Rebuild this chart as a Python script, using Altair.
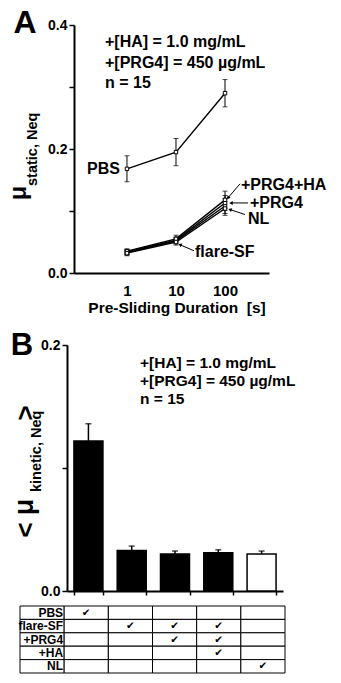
import altair as alt
import pandas as pd

FONT = "Liberation Sans"

# ---------------- Panel A data (static friction vs pre-sliding duration) ----------------
durations = [1, 10, 100]
series_names = ["PBS", "flare-SF", "+PRG4", "+PRG4+HA", "NL"]
pbs_static = [0.168, 0.195, 0.290]
pbs_static_err = [0.021, 0.022, 0.022]
flare_static = [0.033, 0.052, 0.108]
flare_static_err = [0.004, 0.005, 0.012]
prg4_static = [0.034, 0.053, 0.113]
prg4_static_err = [0.004, 0.005, 0.012]
prg4ha_static = [0.035, 0.055, 0.118]
prg4ha_static_err = [0.004, 0.006, 0.014]
nl_static = [0.032, 0.050, 0.104]
nl_static_err = [0.004, 0.005, 0.011]

# ---------------- Panel B data (kinetic friction) ----------------
bar_ids = ["PBS", "flare-SF", "flare-SF+PRG4", "flare-SF+PRG4+HA", "NL"]
mu_kinetic = [0.122, 0.033, 0.030, 0.031, 0.030]
mu_kinetic_err = [0.014, 0.0035, 0.0025, 0.0025, 0.0025]

# ---------------- Table data ----------------
table_rows = ["PBS", "flare-SF", "+PRG4", "+HA", "NL"]
table_cols = ["1", "2", "3", "4", "5"]
check_pbs = [1, 0, 0, 0, 0]
check_flare = [0, 1, 1, 1, 0]
check_prg4 = [0, 0, 1, 1, 0]
check_ha = [0, 0, 0, 1, 0]
check_nl = [0, 0, 0, 0, 1]

conc_text = "+[HA] = 1.0 mg/mL\n+[PRG4] = 450 µg/mL\nn = 15"

# ---------------- Build tables ----------------
rowsA = []
for name, vals, errs in zip(
    series_names,
    [pbs_static, flare_static, prg4_static, prg4ha_static, nl_static],
    [pbs_static_err, flare_static_err, prg4_static_err, prg4ha_static_err, nl_static_err],
):
    for t, v, e in zip(durations, vals, errs):
        rowsA.append(dict(group=name, t=t, v=v, lo=v - e, hi=v + e))
dfA = pd.DataFrame(rowsA)

dfB = pd.DataFrame({"bar": bar_ids, "v": mu_kinetic,
                    "hi": [v + e for v, e in zip(mu_kinetic, mu_kinetic_err)]})

rowsT = []
for r, checks in zip(table_rows, [check_pbs, check_flare, check_prg4, check_ha, check_nl]):
    rowsT.append(dict(row=r, col="label", check="", label=r))
    for c, k in zip(table_cols, checks):
        rowsT.append(dict(row=r, col=c, check="✔" if k else "", label=""))
dfT = pd.DataFrame(rowsT)

AX = dict(labelFont=FONT, labelFontWeight="bold", labelColor="black",
          domainColor="black", tickColor="black", grid=False, title=None,
          labelOverlap=False)

# ---------------- Panel A scales / axes ----------------
xA_scale = alt.Scale(type="log", domain=[0.083, 790], range=[74, 269])
yA_scale = alt.Scale(domain=[0, 0.4], range=[273, 25])
xA_axis = alt.Axis(orient="bottom", offset=-410, values=[1, 10, 100], ticks=False,
                   labelExpr="format(datum.value, 'd')",
                   domainWidth=2, labelFontSize=15, labelPadding=10,
                   labelFlush=False, **AX)
yA_axis = alt.Axis(orient="left", offset=-74, values=[0, 0.1, 0.2, 0.3, 0.4],
                   labelExpr="round(datum.value*10)%2==0 ? format(datum.value,'.1f') : ''",
                   tickSize=5, tickWidth=1.5, domainWidth=2, labelFontSize=14,
                   labelPadding=2, **AX)


def XA(f):
    return alt.X(f"{f}:Q", scale=xA_scale, axis=xA_axis)


def YA(f):
    return alt.Y(f"{f}:Q", scale=yA_scale, axis=yA_axis)


base_A = alt.Chart(dfA)
linesA = base_A.mark_line(color="black", strokeWidth=1.4).encode(
    x=XA("t"), y=YA("v"), detail="group:N")
errA = base_A.mark_rule(color="black", strokeWidth=1).encode(
    x=XA("t"), y=YA("lo"), y2="hi:Q")
capHiA = base_A.mark_tick(orient="horizontal", size=5, thickness=1, color="black").encode(
    x=XA("t"), y=YA("hi"))
capLoA = base_A.mark_tick(orient="horizontal", size=5, thickness=1, color="black").encode(
    x=XA("t"), y=YA("lo"))
ptsA = base_A.mark_point(shape="square", size=12, filled=True, fill="white",
                         stroke="black", strokeWidth=1, opacity=1).encode(
    x=XA("t"), y=YA("v"))

pbs_label = alt.Chart(dfA[(dfA.group == "PBS") & (dfA.t == 1)]).mark_text(
    align="right", baseline="middle", dx=-7, font=FONT, fontWeight="bold",
    fontSize=16, color="black").encode(x=XA("t"), y=YA("v"), text="group:N")

# label placement styles: (group, duration, label offset, arrow tail, arrow head, head angle)
arrow_styles = [
    ("+PRG4+HA", 100, (16, -15), (15, -16), (3, -2), 309),
    ("+PRG4", 100, (25, 0), (23, 0), (6, 0), 0),
    ("NL", 100, (23, 10), (20, 6), (5, 1), 18),
    ("flare-SF", 10, (19, 11), (18, 10), (4, 4), 23),
]
arrow_layers = []
for g, t, lab, tail, head, ang in arrow_styles:
    sub = alt.Chart(dfA[(dfA.group == g) & (dfA.t == t)])
    arrow_layers.append(sub.mark_text(
        align="left", baseline="middle", dx=lab[0], dy=lab[1], font=FONT,
        fontWeight="bold", fontSize=16, color="black").encode(
        x=XA("t"), y=YA("v"), text="group:N"))
    arrow_layers.append(sub.mark_rule(
        color="black", strokeWidth=1, xOffset=tail[0], yOffset=tail[1],
        x2Offset=head[0], y2Offset=head[1]).encode(
        x=XA("t"), y=YA("v"), x2="t:Q", y2="v:Q"))
    arrow_layers.append(sub.mark_point(
        shape="triangle-left", filled=True, size=16, color="black", opacity=1,
        angle=ang, xOffset=head[0], yOffset=head[1]).encode(
        x=XA("t"), y=YA("v")))

panelA = alt.layer(linesA, errA, capHiA, capLoA, ptsA, pbs_label, *arrow_layers)

# ---------------- Panel B ----------------
xB_scale = alt.Scale(domain=bar_ids, range=[67, 283], paddingInner=0.33, paddingOuter=0.16)
xB_axis = alt.Axis(orient="bottom", offset=-92, labels=False, tickBand="extent",
                   tickSize=4, tickWidth=1.5, domainWidth=2, **AX)
yB_scale = alt.Scale(domain=[0, 0.2], range=[591, 345])
yB_axis = alt.Axis(orient="left", offset=-67, values=[0, 0.1, 0.2],
                   labelExpr="round(datum.value*10)%2==0 ? format(datum.value,'.1f') : ''",
                   tickSize=5, tickWidth=1.5, domainWidth=2, labelFontSize=14,
                   labelPadding=2, **AX)


def XB(f):
    return alt.X(f"{f}:N", scale=xB_scale, axis=xB_axis, sort=bar_ids)


def YB(f):
    return alt.Y(f"{f}:Q", scale=yB_scale, axis=yB_axis)


base_B = alt.Chart(dfB)
barsB = base_B.mark_bar(stroke="black", strokeWidth=1.5).encode(
    x=XB("bar"), y=YB("v"),
    fill=alt.condition("datum.bar == 'NL'", alt.value("white"), alt.value("black")))
errB = base_B.mark_rule(color="black", strokeWidth=1.5).encode(
    x=XB("bar"), y=YB("v"), y2="hi:Q")
capB = base_B.mark_tick(orient="horizontal", size=6, thickness=1.5, color="black").encode(
    x=XB("bar"), y=YB("hi"))
panelB = alt.layer(barsB, errB, capB)

# ---------------- Table ----------------
xT_scale = alt.Scale(domain=["label"] + table_cols, range=[20, 285], paddingInner=0, paddingOuter=0)
yT_scale = alt.Scale(domain=table_rows, range=[606, 673], paddingInner=0, paddingOuter=0)
XT = alt.X("col:N", scale=xT_scale, axis=None, sort=["label"] + table_cols)
YT = alt.Y("row:N", scale=yT_scale, axis=None, sort=table_rows)
base_T = alt.Chart(dfT)
cells = base_T.mark_rect(fill="white", stroke="black", strokeWidth=1).encode(x=XT, y=YT)
checks_txt = base_T.mark_text(font="DejaVu Sans", fontSize=10.5, color="black",
                              baseline="middle").encode(x=XT, y=YT, text="check:N")
row_labels = base_T.mark_text(font=FONT, fontWeight="bold", fontSize=12, color="black",
                              align="right", baseline="middle", dx=21).encode(
    x=XT, y=YT, text="label:N")
table = alt.layer(cells, checks_txt, row_labels)

# ---------------- Free annotations (titles, panel letters) ----------------


def free_text(s, **kw):
    style = dict(font=FONT, fontWeight="bold", color="black")
    style.update(kw)
    return alt.Chart(pd.DataFrame({"s": [s]})).mark_text(**style).encode(text="s:N")


notes = alt.layer(
    free_text("A", x=25, y=33, align="center", baseline="alphabetic", fontSize=32),
    free_text("B", x=22, y=355, align="center", baseline="alphabetic", fontSize=31),
    free_text(conc_text, x=105, y=47, align="left", baseline="alphabetic", fontSize=16,
              lineBreak="\n", lineHeight=20.5),
    free_text(conc_text, x=140, y=368, align="left", baseline="alphabetic", fontSize=15.5,
              lineBreak="\n", lineHeight=18),
    free_text("Pre-Sliding Duration\u00a0 [s]", x=177, y=313, align="center",
              baseline="alphabetic", fontSize=15.5),
    free_text("μ", x=18.5, y=193, align="center", baseline="middle", angle=270, fontSize=23),
    free_text("static, Neq", x=37, y=186, align="left", baseline="alphabetic", angle=270,
              fontSize=14.5),
    free_text("<", x=25.5, y=530, align="center", baseline="middle", angle=270, fontSize=26),
    free_text("μ", x=25, y=507, align="center", baseline="middle", angle=270, fontSize=27),
    free_text("kinetic, Neq", x=41, y=492, align="left", baseline="alphabetic", angle=270,
              fontSize=14.5),
    free_text(">", x=25.5, y=413, align="center", baseline="middle", angle=270, fontSize=26),
)

chart = alt.layer(panelA, panelB, table, notes).resolve_scale(
    x="independent", y="independent"
).properties(
    width=341, height=683, autosize=alt.AutoSizeParams(type="none"), padding=0
).configure_view(stroke=None)

chart.save("out.html", embed_options={"renderer": "svg", "actions": False})
